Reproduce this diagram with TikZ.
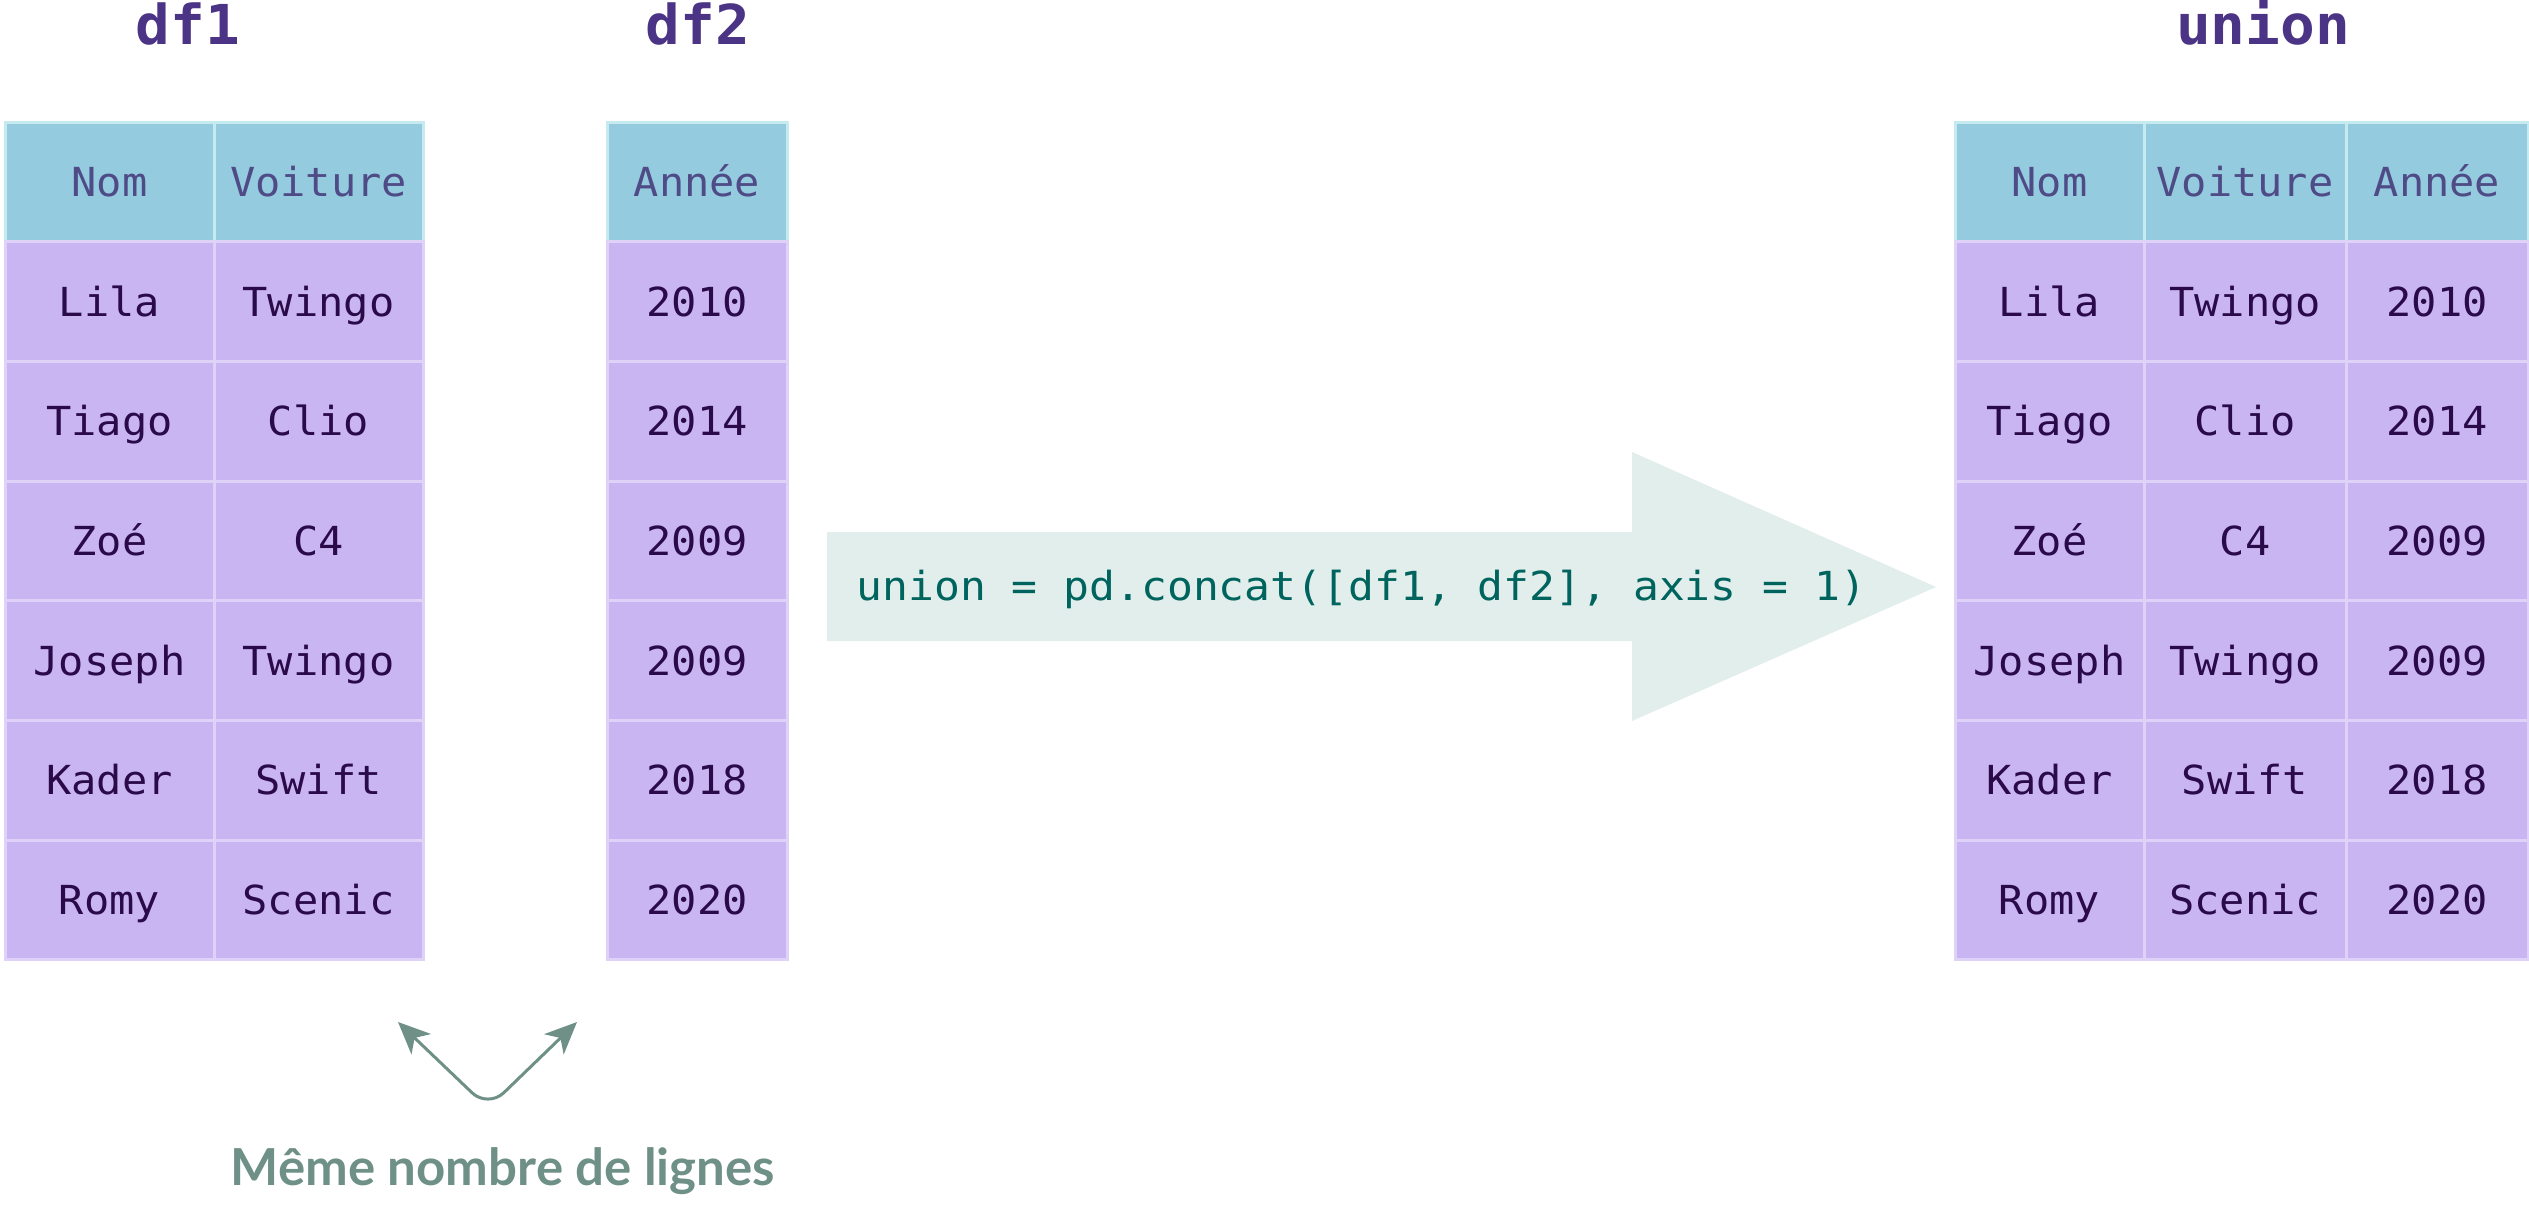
\documentclass[tikz,border=0pt]{standalone}
\usepackage{fontspec}
\setmainfont{Lato}
\newfontfamily\monof[FakeStretch=1.05]{DejaVu Sans Mono}
\newfontfamily\codef[FakeStretch=1.075]{DejaVu Sans Mono}
\usetikzlibrary{arrows.meta}
\definecolor{hfill}{HTML}{95CBDF}
\definecolor{hbord}{HTML}{C5EAF0}
\definecolor{bfill}{HTML}{C9B5F2}
\definecolor{bbord}{HTML}{DED2F8}
\definecolor{htext}{HTML}{4F4B86}
\definecolor{btext}{HTML}{2B0A4A}
\definecolor{ttext}{HTML}{4B3485}
\definecolor{afill}{HTML}{E1EEEB}
\definecolor{ctext}{HTML}{00645E}
\definecolor{lab}{HTML}{6F9087}
\tikzset{
  cellbase/.style={rectangle, line width=3pt, inner sep=0pt, font=\monof\fontsize{40}{40}\selectfont, text height=29pt, text depth=0pt, minimum height=119.7pt},
  hcell/.style={cellbase, draw=hbord, fill=hfill, text=htext},
  bcell/.style={cellbase, draw=bbord, fill=bfill, text=btext},
  ttl/.style={anchor=base, text=ttext, font=\monof\bfseries\fontsize{55}{55}\selectfont},
  codetxt/.style={anchor=base west, text=ctext, font=\codef\fontsize{40}{40}\selectfont},
  labtxt/.style={anchor=base, text=lab, font=\bfseries\fontsize{51}{51}\selectfont},
  linkarrow/.style={draw=lab, line width=3pt, rounded corners=22pt, {Stealth[length=32pt,width=28pt,inset=9pt]}-{Stealth[length=32pt,width=28pt,inset=9pt]}}
}
\begin{document}
\begin{tikzpicture}[x=1pt,y=-1pt]
\useasboundingbox (0,0) rectangle (2529,1215);
% titles
\node[ttl] (t1) at (188,45) {df1};
\node[ttl] (t2) at (698,45) {df2};
\node[ttl] (t3) at (2263,45) {union};
% headers
\node[hcell, minimum width=209pt] (a0) at (109.5,181.85) {Nom};
\node[hcell, minimum width=209pt] (b0) at (318.5,181.85) {Voiture};
\node[hcell, minimum width=180pt] (c0) at (697,181.85) {Année};
\node[hcell, minimum width=189pt] (u10) at (2049.5,181.85) {Nom};
\node[hcell, minimum width=202pt] (u20) at (2245,181.85) {Voiture};
\node[hcell, minimum width=182pt] (u30) at (2437,181.85) {Année};
% body
\foreach \n/\c/\y [count=\k] in {Lila/Twingo/2010, Tiago/Clio/2014, Zoé/C4/2009, Joseph/Twingo/2009, Kader/Swift/2018, Romy/Scenic/2020}{
  \pgfmathsetmacro\yc{122+119.7*\k+59.85}
  \node[bcell, minimum width=209pt] (a\k) at (109.5,\yc) {\n};
  \node[bcell, minimum width=209pt] (b\k) at (318.5,\yc) {\c};
  \node[bcell, minimum width=180pt] (c\k) at (697,\yc) {\y};
  \node[bcell, minimum width=189pt] (u1\k) at (2049.5,\yc) {\n};
  \node[bcell, minimum width=202pt] (u2\k) at (2245,\yc) {\c};
  \node[bcell, minimum width=182pt] (u3\k) at (2437,\yc) {\y};
}
% big arrow
\fill[afill] (827,532) -- (1632,532) -- (1632,452) -- (1936,587) -- (1632,721) -- (1632,641) -- (827,641) -- cycle;
\node[codetxt] (code) at (853,600) {union = pd.concat([df1, df2], axis = 1)};
% bottom arrows
\coordinate (tl) at (398,1022);
\coordinate (bt) at (488,1108);
\coordinate (tr) at (577,1022);
\draw[linkarrow] (tl) -- (bt) -- (tr);
\node[labtxt] (lbl) at (503,1185) {Même nombre de lignes};
\end{tikzpicture}
\end{document}
